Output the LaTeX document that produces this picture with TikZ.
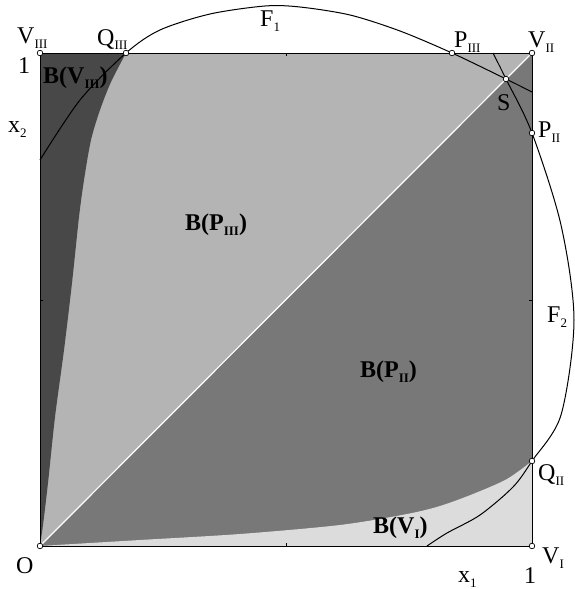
\documentclass[tikz,border=0pt]{standalone}
\usepackage{fontspec}
\setmainfont{Liberation Serif}
\newcommand\lsub[1]{\raisebox{-5pt}{\fontsize{13}{13}\selectfont #1}}
\definecolor{cVIII}{RGB}{72,72,72}
\definecolor{cPIII}{RGB}{180,180,180}
\definecolor{cPII}{RGB}{120,120,120}
\definecolor{cVI}{RGB}{220,220,220}
\begin{document}
\begin{tikzpicture}[x=1pt,y=-1pt,
  lbl/.style={inner sep=0pt,anchor=base west,font=\fontsize{24}{26}\selectfont},
  reglbl/.style={inner sep=0pt,anchor=base west,font=\fontsize{24}{26}\selectfont\bfseries},
  dotmark/.style={circle,draw=black,fill=white,line width=0.7pt,inner sep=0pt,minimum size=5.6pt},
  curve/.style={draw=black,line width=1pt},
  tick/.style={draw=black,line width=0.6pt}]
\useasboundingbox (0,0) rectangle (575,589);
% key points
\coordinate (O) at (40,546);
\coordinate (VI) at (532,546);
\coordinate (VII) at (532,53);
\coordinate (VIII) at (40,53);
\coordinate (QIII) at (126,53);
\coordinate (PIII) at (452,53);
\coordinate (S) at (506,79);
\coordinate (PII) at (532,133);
\coordinate (QII) at (532,461);
\coordinate (F1s) at (40,160);
\coordinate (F1e) at (532,92);
\coordinate (F2s) at (493,53);
\coordinate (F2e) at (427,546);
% regions
\fill[cPIII] (O) -- (VIII) -- (VII) -- cycle;
\fill[cPII] (O) -- (VII) -- (VI) -- cycle;
\fill[cVI] plot[smooth] coordinates {(O) (140,540) (240,534) (340,525) (407,514) (440,506) (473,494) (507,479) (QII)} -- (VI) -- cycle;
\fill[cVIII] (VIII) -- plot[smooth] coordinates {(QIII) (111,82) (100,110) (91,140) (84,180) (79,217) (72,283) (64,350) (55,417) (48,483) (43,525) (O)} -- cycle;
% diagonal and square
\draw[white,line width=1.2pt] (O) -- (VII);
\draw[black,line width=0.8pt] (O) rectangle (VII);
\draw[tick] (286,546) -- (286,543);
\draw[tick] (286,53) -- (286,56);
\draw[tick] (40,300) -- (43,300);
\draw[tick] (532,300) -- (529,300);
% curves F1 and F2
\draw[curve] plot[smooth] coordinates {(F1s) (80,100) (QIII) (160,30) (210,14) (265,6) (300,7) (350,15) (400,31) (PIII) (S) (F1e)};
\draw[curve] plot[smooth] coordinates {(F2s) (S) (PII) (561,225) (574,320) (561,415) (QII) (513,487) (480,515) (447,533) (F2e)};
% markers
\foreach \p in {O,VI,VII,VIII,QIII,PIII,S,PII,QII}
  \node[dotmark] (m\p) at (\p) {};
% labels
\node[lbl] (lVIII) at (17,43) {V\lsub{III}};
\node[lbl] (lone2) at (18,73) {1};
\node[lbl] (lx2) at (8,132) {x\lsub{2}};
\node[lbl] (lQIII) at (97,45) {Q\lsub{III}};
\node[lbl] (lF1) at (260,27) {F\lsub{1}};
\node[lbl] (lPIII) at (454,47) {P\lsub{III}};
\node[lbl] (lVII) at (528,47) {V\lsub{II}};
\node[lbl] (lS) at (497,110) {S};
\node[lbl] (lPII) at (538,137) {P\lsub{II}};
\node[lbl] (lF2) at (547,322) {F\lsub{2}};
\node[lbl] (lQII) at (538,480) {Q\lsub{II}};
\node[lbl] (lVI) at (542,563) {V\lsub{I}};
\node[lbl] (lone1) at (524,583) {1};
\node[lbl] (lx1) at (458,582) {x\lsub{1}};
\node[lbl] (lO) at (16,573) {O};
\node[reglbl] (rVIII) at (43,83) {B(V\lsub{III})};
\node[reglbl] (rPIII) at (185,230) {B(P\lsub{III})};
\node[reglbl] (rPII) at (360,377) {B(P\lsub{II})};
\node[reglbl] (rVI) at (373,533) {B(V\lsub{I})};
\end{tikzpicture}
\end{document}
